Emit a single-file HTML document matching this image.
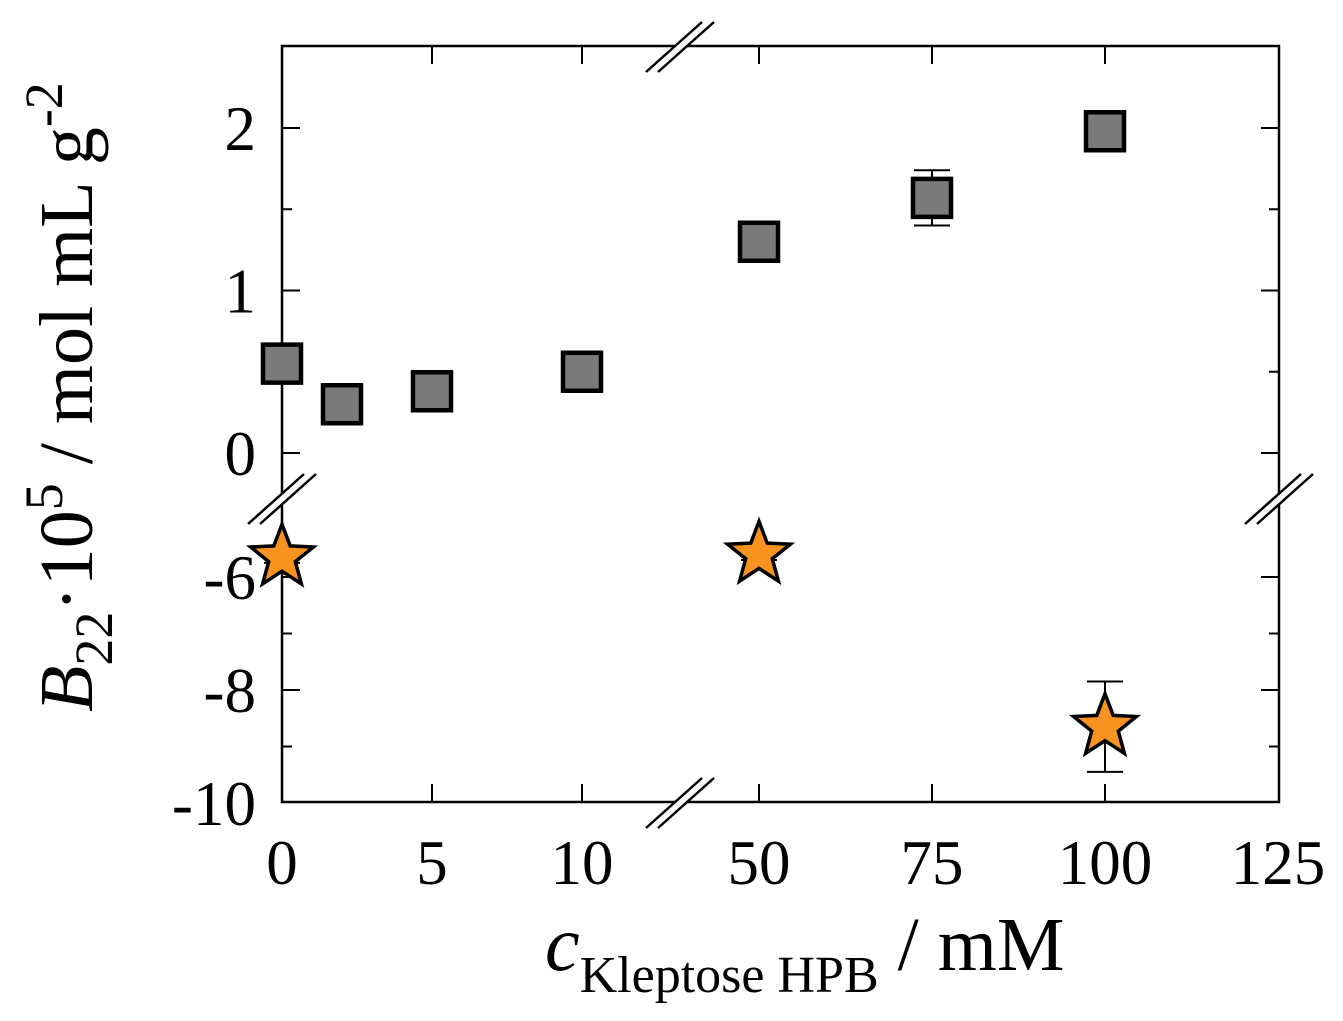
<!DOCTYPE html>
<html><head><meta charset="utf-8"><style>
html,body{margin:0;padding:0;background:#fff;}
svg{display:block;font-family:"Liberation Serif",serif;}
</style></head><body>
<svg id="c" width="1343" height="1021" viewBox="0 0 1343 1021"></svg>
<script>
const sqX=[0,2,5,10,50,75,100];
const sqY=[0.55,0.3,0.38,0.5,1.3,1.57,1.98];
const sqErr=[0.06,0.03,0.05,0.05,0.06,0.17,0.04];
const stX=[0,50,100];
const stY=[-5.65,-5.6,-8.65];
const stErr=[0.1,0.1,0.8];
const xTicksLeft=[0,5,10];
const xTicksRight=[50,75,100,125];
const yTicksTop=[0,1,2];
const yTicksBot=[-6,-8,-10];
const NS="http://www.w3.org/2000/svg";
const svg=document.getElementById('c');
const L=282,R=1279,T=46,B=802;
function xs(v){return v<=20? L+v*30 : 759+(v-50)*6.92;}
function ys(v){return v>=-1? 453-v*162.5 : 577-(v+6)*56.5;}
function mk(tag,a,p){const e=document.createElementNS(NS,tag);for(const k in a)e.setAttribute(k,a[k]);(p||svg).appendChild(e);return e;}
const fr=mk('rect',{x:L,y:T,width:R-L,height:B-T,fill:'none',stroke:'#000','stroke-width':2.5});


function brk(cx,cy,name){
  const g=mk('g',{});
  
  
  mk('polygon',{points:`${cx-24},${cy+18} ${cx+22},${cy-24} ${cx+28},${cy-18} ${cx-18},${cy+24}`,fill:'#fff'},g);
  mk('line',{x1:cx-34,y1:cy+26,x2:cx+22,y2:cy-24,stroke:'#000','stroke-width':2.5},g);
  mk('line',{x1:cx-22,y1:cy+26,x2:cx+34,y2:cy-24,stroke:'#000','stroke-width':2.5},g);
}
brk(680,46,'x-break-top');brk(680,802,'x-break-bottom');brk(282,498,'y-break-left');brk(1279,498,'y-break-right');
function tick(x1,y1,x2,y2){const t=mk('line',{x1,y1,x2,y2,stroke:'#000','stroke-width':2});}
function label(txt,x,y,anchor,name){const t=mk('text',{x,y,'font-size':63,'text-anchor':anchor});t.textContent=txt;}
xTicksLeft.concat(xTicksRight).forEach(v=>{const x=xs(v);if(v!==0&&v!==125){tick(x,B,x,B-18);tick(x,T,x,T+18);}label(String(v),x,884,'middle','x-tick-label');});
yTicksTop.forEach(v=>{const y=ys(v);tick(L,y,L+18,y);tick(R,y,R-18,y);label(String(v),256,y+22,'end','y-tick-label');});
[0.5,1.5].forEach(v=>{const y=ys(v);tick(L,y,L+10,y);tick(R,y,R-10,y);});
yTicksBot.forEach(v=>{const y=ys(v);if(v!==-10){tick(L,y,L+18,y);tick(R,y,R-18,y);}label(String(v),256,y+22,'end','y-tick-label');});
[-7,-9].forEach(v=>{const y=ys(v);tick(L,y,L+10,y);tick(R,y,R-10,y);});
function err(x,y,e,name){const g=mk('g',{stroke:'#000','stroke-width':2});
  const y1=ys(y+e),y2=ys(y-e);mk('line',{x1:x,y1,x2:x,y2},g);mk('line',{x1:x-18,y1,x2:x+18,y2:y1},g);mk('line',{x1:x-18,y1:y2,x2:x+18,y2},g);}
sqX.forEach((v,i)=>{const x=xs(v),y=ys(sqY[i]);err(x,sqY[i],sqErr[i],'square-error-bar');
  const r=mk('rect',{x:x-19,y:y-19,width:38,height:38,fill:'#7a7a7a',stroke:'#000','stroke-width':4.5});
  });
function star(cx,cy,R1,r1){let p=[];for(let i=0;i<10;i++){const a=-Math.PI/2+i*Math.PI/5,rr=i%2?r1:R1;p.push((cx+rr*Math.cos(a)).toFixed(1)+','+(cy+rr*Math.sin(a)).toFixed(1));}return p.join(' ');}
stX.forEach((v,i)=>{const x=xs(v),y=ys(stY[i]);err(x,stY[i],stErr[i],'star-error-bar');
  const s=mk('polygon',{points:star(x,y,33,14),fill:'#f7931e',stroke:'#000','stroke-width':3.5});
  });
const xt=mk('text',{x:545,y:970,'font-size':76});

xt.innerHTML='<tspan font-style="italic" font-size="78">c</tspan><tspan dy="22" font-size="52">Kleptose HPB</tspan><tspan dy="-22"> / mM</tspan>';
const yt=mk('text',{x:0,y:0,'font-size':76,transform:'translate(92,712) rotate(-90)'});

yt.innerHTML='<tspan font-style="italic">B</tspan><tspan dy="20" font-size="54">22</tspan><tspan dy="-20">·10</tspan><tspan dy="-30" font-size="54">5</tspan><tspan dy="30"> / mol mL g</tspan><tspan dy="-30" font-size="54">-2</tspan>';
</script>
</body></html>
